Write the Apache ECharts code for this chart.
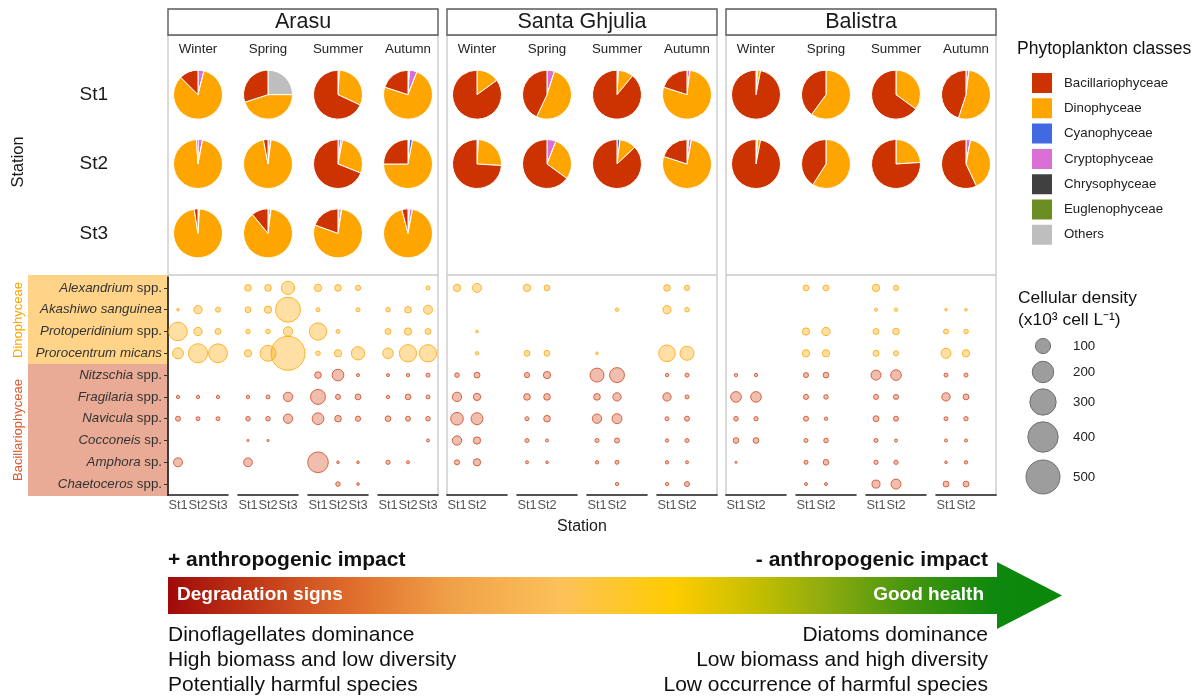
<!DOCTYPE html>
<html><head><meta charset="utf-8">
<script src="https://cdn.jsdelivr.net/npm/echarts@6/dist/echarts.min.js"></script>
<style>html,body{margin:0;padding:0;background:#fff}#c{width:1198px;height:699px}</style>
</head><body><div id="c"></div>
<script>
// ---------------- DATA ----------------
const sites = ['Arasu', 'Santa Ghjulia', 'Balistra'];
const seasons = ['Winter', 'Spring', 'Summer', 'Autumn'];
const stations = ['St1', 'St2', 'St3'];
const arasuStations = ['St1', 'St2', 'St3'];
const santaStations = ['St1', 'St2'];
const balistraStations = ['St1', 'St2'];

const classes = ['Bacillariophyceae', 'Dinophyceae', 'Cyanophyceae', 'Cryptophyceae', 'Chrysophyceae', 'Euglenophyceae', 'Others'];
const classColors = ['#CC3300', '#FFA500', '#4169E1', '#DA70D6', '#404040', '#6B8E23', '#BEBEBE'];

// composition (%) per season [Winter, Spring, Summer, Autumn]; each in class order above
const arasuSt1Comp = [[12.5,83.5,0,4,0,0,0],[30,45,0,0,0,0,25],[68,31,0,1,0,0,0],[20,74,0,5,0,0,1]];
const arasuSt2Comp = [[1,96,0,3,0,0,0],[3,95,0,0,0,0,2],[69,28,1,2,0,0,0],[25,72,2,0,0,0,1]];
const arasuSt3Comp = [[2.5,96.5,0,0,0,0,1],[11,87,0,0,0,0,2],[19.5,78,0,0,0,0,2.5],[4,93,0,2,0,0,1]];
const santaSt1Comp = [[85,15,0,0,0,0,0],[43,52,0,5,0,0,0],[89,10,0,0,0,0,1],[20,78,0,2,0,0,0]];
const santaSt2Comp = [[74,25,0,0,0,0,1],[65,29,0,6,0,0,0],[87,11,2,0,0,0,0],[20,77,0,2,0,0,1]];
const balistraSt1Comp = [[97,2,0,0,0,0,1],[40,60,0,0,0,0,0],[65,35,0,0,0,0,0],[45,53,0,2,0,0,0]];
const balistraSt2Comp = [[97,2,0,1,0,0,0],[41,59,0,0,0,0,0],[76,24,0,0,0,0,0],[57,40,0,3,0,0,0]];

const speciesNames = ['Alexandrium spp.', 'Akashiwo sanguinea', 'Protoperidinium spp.', 'Prorocentrum micans', 'Nitzschia spp.', 'Fragilaria spp.', 'Navicula spp.', 'Cocconeis sp.', 'Amphora sp.', 'Chaetoceros spp.'];
const speciesItalic = ['Alexandrium', 'Akashiwo sanguinea', 'Protoperidinium', 'Prorocentrum micans', 'Nitzschia', 'Fragilaria', 'Navicula', 'Cocconeis', 'Amphora', 'Chaetoceros'];
const speciesSuffix = [' spp.', '', ' spp.', '', ' spp.', ' spp.', ' spp.', ' sp.', ' sp.', ' spp.'];
const speciesClass = ['Dinophyceae','Dinophyceae','Dinophyceae','Dinophyceae','Bacillariophyceae','Bacillariophyceae','Bacillariophyceae','Bacillariophyceae','Bacillariophyceae','Bacillariophyceae'];

// cellular density (x10^3 cell/L); rows = species, columns = season x station
// Arasu: W1 W2 W3 Sp1 Sp2 Sp3 Su1 Su2 Su3 Au1 Au2 Au3
const arasuDensity = [
  [0,0,0, 19,19,77, 23,19,12, 0,0,7],
  [3,30,11, 15,23,270, 7,0,7, 9,19,35],
  [150,30,15, 9,9,38, 130,7,0, 15,23,15],
  [52,160,155, 23,110,500, 9,23,77, 49,130,130],
  [0,0,0, 0,0,0, 19,59,4, 4,5,7],
  [5,5,5, 5,7,38, 97,11,15, 5,14,7],
  [11,7,7, 9,9,38, 59,19,12, 14,11,9],
  [0,0,0, 2,2,0, 0,0,0, 0,0,4],
  [35,0,0, 33,0,0, 185,3,3, 8,4,0],
  [0,0,0, 0,0,0, 0,9,3, 0,0,0]
];
// Santa Ghjulia: W1 W2 Sp1 Sp2 Su1 Su2 Au1 Au2
const santaDensity = [
  [23,35, 23,15, 0,0, 19,12],
  [0,0, 0,0, 0,5, 28,9],
  [0,3, 0,0, 0,0, 0,0],
  [0,5, 15,15, 3,0, 120,85],
  [9,15, 12,23, 85,97, 5,7],
  [38,23, 19,19, 19,30, 30,7],
  [70,62, 7,19, 38,43, 7,11],
  [38,23, 7,4, 7,11, 5,7],
  [11,23, 4,3, 5,7, 5,4],
  [0,0, 0,0, 0,5, 5,11]
];
// Balistra: W1 W2 Sp1 Sp2 Su1 Su2 Au1 Au2
const balistraDensity = [
  [0,0, 15,15, 23,12, 0,0],
  [0,0, 0,0, 4,5, 3,3],
  [0,0, 23,30, 15,19, 11,9],
  [0,0, 23,23, 15,11, 43,23],
  [5,5, 11,14, 43,49, 7,7],
  [49,49, 11,9, 11,11, 30,15],
  [9,8, 11,5, 15,11, 7,8],
  [14,14, 7,9, 7,4, 4,4],
  [2,0, 7,14, 8,8, 3,5],
  [0,0, 4,4, 28,43, 15,15]
];
const sizeLegendValues = [100, 200, 300, 400, 500];

// ---------------- BUILD ----------------
const FONT = '"Liberation Sans", Arial, Helvetica, sans-serif';
const siteStationLists = [arasuStations, santaStations, balistraStations];
const siteDensities = [arasuDensity, santaDensity, balistraDensity];
const siteComps = [[arasuSt1Comp, arasuSt2Comp, arasuSt3Comp], [santaSt1Comp, santaSt2Comp], [balistraSt1Comp, balistraSt2Comp]];

const L = {siteLeft: [168, 447, 726], siteW: 270, blockW: 60, blockPitch: 70,
  bubTop: 277, bubH: 218, pieTop: 60, pieH: 208, pieR: 24.5, panelTop: 35, sep: 275, panelBottom: 496};
const sizeOf = v => 1.52 * Math.sqrt(v);

const DINO_STYLE = {color: 'rgba(255,165,0,0.45)', borderColor: '#FFA500', borderWidth: 1};
const BAC_STYLE = {color: 'rgba(210,74,30,0.45)', borderColor: '#D0461C', borderWidth: 1};

const grids = [], xAxes = [], yAxes = [], series = [];

sites.forEach((site, s) => {
  const sts = siteStationLists[s];
  const dens = siteDensities[s];
  seasons.forEach((season, k) => {
    const gi = grids.length;
    grids.push({left: L.siteLeft[s] + k * L.blockPitch, top: L.bubTop, width: L.blockW, height: L.bubH});
    xAxes.push({
      gridIndex: gi, type: 'category', data: stations, boundaryGap: true,
      axisLine: {lineStyle: {color: '#1a1a1a', width: 1.6}},
      axisTick: {alignWithLabel: true, length: 3, lineStyle: {color: '#333', width: 1}, interval: (i) => i < sts.length},
      axisLabel: {interval: 0, fontSize: 12.8, color: '#555', margin: 4, fontFamily: FONT,
        formatter: (v) => sts.includes(v) ? v : ''},
      splitLine: {show: false}
    });
    const showY = gi === 0;
    const rich = {i: {fontStyle: 'italic', fontSize: 13.3, color: '#333', fontFamily: FONT}};
    yAxes.push({
      gridIndex: gi, type: 'category', data: speciesNames, inverse: true, show: showY,
      axisLine: {show: showY, lineStyle: {color: '#1a1a1a', width: 1.6}},
      axisTick: {show: showY, alignWithLabel: true, length: 4, lineStyle: {color: '#333'}},
      axisLabel: {show: showY, interval: 0, fontSize: 13.3, color: '#333', margin: 6, fontFamily: FONT, rich: rich,
        formatter: (v, idx) => '{i|' + speciesItalic[idx] + '}' + speciesSuffix[idx]},
      splitLine: {show: false}
    });
    const data = [];
    speciesNames.forEach((sp, i) => {
      sts.forEach((st, j) => {
        const v = dens[i][k * sts.length + j];
        if (v > 0) data.push({value: [st, sp, v], itemStyle: speciesClass[i] === 'Dinophyceae' ? DINO_STYLE : BAC_STYLE});
      });
    });
    series.push({type: 'scatter', xAxisIndex: gi, yAxisIndex: gi, data: data,
      symbolSize: (val) => sizeOf(val[2]), silent: true, animation: false});
  });
});

// pie grids (one per site) give season / station label axes
sites.forEach((site, s) => {
  const gi = grids.length;
  grids.push({left: L.siteLeft[s] - 5, top: L.pieTop, width: L.blockPitch * 4, height: L.pieH});
  xAxes.push({gridIndex: gi, type: 'category', data: seasons, position: 'top',
    axisLine: {show: false}, axisTick: {show: false}, splitLine: {show: false},
    axisLabel: {interval: 0, fontSize: 13.3, color: '#222', margin: 4, fontFamily: FONT}});
  yAxes.push({gridIndex: gi, type: 'category', data: stations, inverse: true, show: s === 0,
    axisLine: {show: false}, axisTick: {show: false}, splitLine: {show: false},
    axisLabel: {show: s === 0, fontSize: 19, color: '#1a1a1a', margin: 55, fontFamily: FONT}});
});

// pies
const drawOrder = [6, 5, 4, 3, 2, 1, 0]; // clockwise from 12 o'clock
sites.forEach((site, s) => {
  siteComps[s].forEach((comp, j) => {
    seasons.forEach((season, k) => {
      const cx = L.siteLeft[s] - 5 + L.blockPitch * (k + 0.5);
      const cy = L.pieTop + L.pieH / 3 * (j + 0.5);
      series.push({
        type: 'pie', center: [cx, cy], radius: L.pieR, startAngle: 90, clockwise: true,
        silent: true, animation: false, label: {show: false}, labelLine: {show: false},
        itemStyle: {borderColor: '#ffffff', borderWidth: 1},
        data: drawOrder.map(c => ({name: classes[c], value: comp[k][c], itemStyle: {color: classColors[c]}}))
      });
    });
  });
});

// ---------------- GRAPHICS (frames, annotations) ----------------
const g = [];
const txt = (text, x, y, o) => Object.assign({type: 'text', x: x, y: y, silent: true,
  style: Object.assign({text: text, fontFamily: FONT, fontSize: 13, fill: '#222',
    align: 'left', verticalAlign: 'middle', textAlign: 'left', textVerticalAlign: 'middle'}, o || {})}, {});

sites.forEach((site, s) => {
  const x0 = L.siteLeft[s], x1 = x0 + L.siteW;
  g.push({type: 'polyline', silent: true, z: -1, shape: {points: [[x0, L.panelBottom], [x0, L.panelTop], [x1, L.panelTop], [x1, L.panelBottom]]},
    style: {stroke: '#c8c8c8', lineWidth: 1.3, fill: null}});
  g.push({type: 'line', silent: true, z: -1, shape: {x1: x0, y1: L.sep, x2: x1, y2: L.sep}, style: {stroke: '#c8c8c8', lineWidth: 1.3}});
  g.push({type: 'rect', silent: true, shape: {x: x0, y: 9, width: L.siteW, height: 26}, style: {fill: '#fff', stroke: '#5a5a5a', lineWidth: 1.4}});
  g.push(txt(site, (x0 + x1) / 2, 22.5, {fontSize: 21.5, fill: '#1a1a1a', align: 'center', textAlign: 'center'}));
});

// left class bands
g.push({type: 'rect', silent: true, z: -2, shape: {x: 28, y: 275, width: 140, height: 89}, style: {fill: '#FFD488'}});
g.push({type: 'rect', silent: true, z: -2, shape: {x: 28, y: 364, width: 140, height: 132}, style: {fill: '#E9AB95'}});
g.push(Object.assign(txt('Dinophyceae', 18, 320, {fontSize: 13, fill: '#FFA500', align: 'center', textAlign: 'center'}), {rotation: Math.PI / 2}));
g.push(Object.assign(txt('Bacillariophyceae', 18, 430, {fontSize: 13, fill: '#DD5A2E', align: 'center', textAlign: 'center'}), {rotation: Math.PI / 2}));

// axis titles
g.push(Object.assign(txt('Station', 18, 162, {fontSize: 16.4, fill: '#1a1a1a', align: 'center', textAlign: 'center'}), {rotation: Math.PI / 2}));
g.push(txt('Station', 582, 527, {fontSize: 16, fill: '#1a1a1a', align: 'center', textAlign: 'center'}));

// legend titles
g.push(txt('Phytoplankton classes', 1017, 49, {fontSize: 17.5, fill: '#111'}));
g.push(txt('Cellular density', 1018, 298, {fontSize: 17.4, fill: '#111'}));
g.push(txt('(x10\u00B3 cell L\u207B\u00B9)', 1018, 320, {fontSize: 17.4, fill: '#111'}));

// size legend keys
const sizeKeyY = [346, 372, 402, 437, 477];
sizeLegendValues.forEach((v, i) => {
  g.push({type: 'circle', silent: true, shape: {cx: 1043, cy: sizeKeyY[i], r: sizeOf(v) / 2},
    style: {fill: 'rgba(140,140,140,0.85)', stroke: '#6f6f6f', lineWidth: 1}});
  g.push(txt(String(v), 1073, sizeKeyY[i], {fontSize: 13.3, fill: '#222'}));
});

// gradient arrow
g.push({type: 'polygon', silent: true,
  shape: {points: [[168, 577], [997, 577], [997, 562], [1062, 595.5], [997, 629], [997, 614], [168, 614]]},
  style: {fill: new echarts.graphic.LinearGradient(0, 0, 1, 0, [
    {offset: 0, color: '#A00A0A'}, {offset: 0.10, color: '#C23A18'}, {offset: 0.20, color: '#DE6A2A'},
    {offset: 0.315, color: '#F0A048'}, {offset: 0.44, color: '#FDC15A'}, {offset: 0.565, color: '#FFCC00'},
    {offset: 0.66, color: '#C4BE00'}, {offset: 0.74, color: '#8AAA10'}, {offset: 0.83, color: '#45950F'},
    {offset: 0.925, color: '#0E880E'}, {offset: 1, color: '#0A870A'}])}});
g.push(txt('+ anthropogenic impact', 168, 560.5, {fontSize: 21, fontWeight: 'bold', fill: '#111'}));
g.push(txt('- anthropogenic impact', 988, 560.5, {fontSize: 21, fontWeight: 'bold', fill: '#111', align: 'right', textAlign: 'right'}));
g.push(txt('Degradation signs', 177, 594.5, {fontSize: 19, fontWeight: 'bold', fill: '#fff'}));
g.push(txt('Good health', 984, 594.5, {fontSize: 19, fontWeight: 'bold', fill: '#fff', align: 'right', textAlign: 'right'}));
const leftLines = ['Dinoflagellates dominance', 'High biomass and low diversity', 'Potentially harmful species'];
const rightLines = ['Diatoms dominance', 'Low biomass and high diversity', 'Low occurrence of harmful species'];
leftLines.forEach((t, i) => g.push(txt(t, 168, 635.5 + 25 * i, {fontSize: 21, fill: '#111'})));
rightLines.forEach((t, i) => g.push(txt(t, 988, 635.5 + 25 * i, {fontSize: 21, fill: '#111', align: 'right', textAlign: 'right'})));

const chart = echarts.init(document.getElementById('c'), null, {renderer: 'canvas'});
chart.setOption({
  animation: false,
  textStyle: {fontFamily: FONT},
  grid: grids, xAxis: xAxes, yAxis: yAxes, series: series,
  legend: {data: classes, orient: 'vertical', left: 1025, top: 66, padding: 5, itemWidth: 22, itemHeight: 22, itemGap: 1.3,
    icon: 'rect', selectedMode: false, textStyle: {fontSize: 13.3, color: '#222', fontFamily: FONT, padding: [0, 0, 0, 6]}},
  graphic: {elements: g}
});
</script></body></html>
